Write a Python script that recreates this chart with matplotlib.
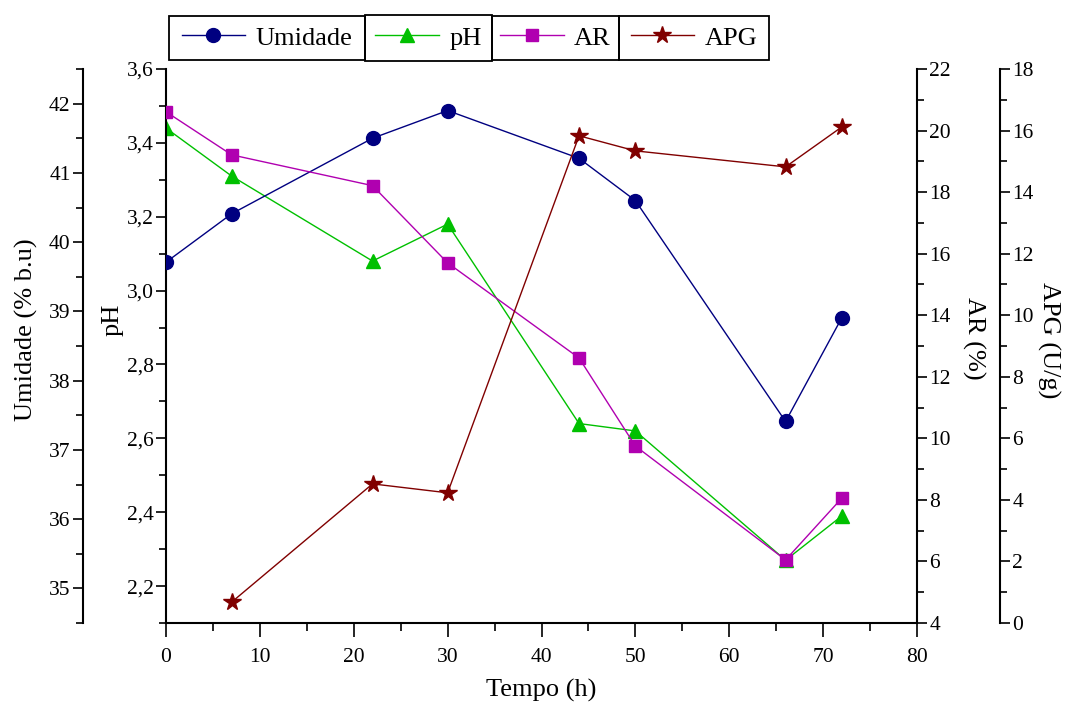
import matplotlib
matplotlib.use('Agg')
import matplotlib.pyplot as plt
from matplotlib.ticker import MultipleLocator, FuncFormatter
from matplotlib.patches import Rectangle

plt.rcParams['font.family'] = ['Liberation Serif', 'DejaVu Serif']

# dados
tempo = [0, 7, 22, 30, 44, 50, 66, 72]
umidade = [39.71, 40.41, 41.50, 41.90, 41.21, 40.60, 37.41, 38.91]
ph = [3.44, 3.31, 3.08, 3.18, 2.64, 2.62, 2.27, 2.39]
ar = [20.61, 19.21, 18.21, 15.70, 12.61, 9.75, 6.05, 8.06]
tempo_apg = [7, 22, 30, 44, 50, 66, 72]
apg = [0.68, 4.52, 4.23, 15.83, 15.34, 14.82, 16.12]

cor_umid = '#000080'
cor_ph = '#00c000'
cor_ar = '#b000b0'
cor_apg = '#800000'

W, H = 1066, 704
tick_fs = 15.5
label_fs = 19

fig = plt.figure(figsize=(W/100, H/100), dpi=100)
ax = fig.add_axes([166/W, 1 - 623/H, (917 - 166)/W, (623 - 69)/H])
ax_u = ax.twinx()
ax_ar = ax.twinx()
ax_apg = ax.twinx()

# eixo da umidade a esquerda, deslocado
ax_u.yaxis.set_label_position('left')
ax_u.yaxis.set_ticks_position('left')
ax_u.spines['left'].set_position(('outward', 83 * 72 / 100))
ax_u.spines['left'].set_visible(True)
ax_apg.spines['right'].set_position(('outward', 83 * 72 / 100))

for a in [ax, ax_u, ax_ar, ax_apg]:
    a.spines['top'].set_visible(False)
    a.patch.set_visible(False)
for a in [ax_u, ax_ar, ax_apg]:
    a.spines['bottom'].set_visible(False)
ax.spines['right'].set_visible(False)
ax_u.spines['right'].set_visible(False)
ax_ar.spines['left'].set_visible(False)
ax_apg.spines['left'].set_visible(False)

l1, = ax_u.plot(tempo, umidade, '-o', color=cor_umid, lw=1, ms=10, label='Umidade')
l2, = ax.plot(tempo, ph, '-^', color=cor_ph, lw=1, ms=10, label='pH')
l3, = ax_ar.plot(tempo, ar, '-s', color=cor_ar, lw=1, ms=9, label='AR')
l4, = ax_apg.plot(tempo_apg, apg, '-*', color=cor_apg, lw=1, ms=13, label='APG')

ax.set_xlim(0, 80)
ax.set_ylim(2.1, 3.6)
ax_u.set_ylim(34.5, 42.5)
ax_ar.set_ylim(4, 22)
ax_apg.set_ylim(0, 18)

ax.xaxis.set_major_locator(MultipleLocator(10))
ax.xaxis.set_minor_locator(MultipleLocator(5))
ax.yaxis.set_major_locator(MultipleLocator(0.2))
ax.yaxis.set_minor_locator(MultipleLocator(0.1))
ax.yaxis.set_major_formatter(FuncFormatter(lambda v, p: ('%.1f' % v).replace('.', ',')))
ax_u.yaxis.set_major_locator(MultipleLocator(1))
ax_u.yaxis.set_minor_locator(MultipleLocator(0.5))
ax_ar.yaxis.set_major_locator(MultipleLocator(2))
ax_ar.yaxis.set_minor_locator(MultipleLocator(1))
ax_apg.yaxis.set_major_locator(MultipleLocator(2))
ax_apg.yaxis.set_minor_locator(MultipleLocator(1))

ax.tick_params(axis='x', which='major', direction='out', length=10, width=1.2, labelsize=tick_fs, pad=8)
ax.tick_params(axis='x', which='minor', direction='out', length=6, width=1.2)
for a in [ax, ax_u, ax_ar, ax_apg]:
    a.tick_params(axis='y', which='major', direction='out', length=7, width=1.2, labelsize=tick_fs, pad=2)
    a.tick_params(axis='y', which='minor', direction='out', length=5, width=1.2)
    for s in a.spines.values():
        s.set_linewidth(1.5)

# rotulos dos eixos em posicao fixa
fig.text(541/W, 1 - 690/H, 'Tempo (h)', fontsize=label_fs, ha='center', va='center')
fig.text(113/W, 1 - 320/H, 'pH', fontsize=label_fs, rotation=90, ha='center', va='center')
fig.text(26/W, 1 - 330/H, 'Umidade (% b.u)', fontsize=label_fs, rotation=90, ha='center', va='center')
fig.text(974/W, 1 - 338/H, 'AR (%)', fontsize=label_fs, rotation=270, ha='center', va='center')
fig.text(1049/W, 1 - 340/H, 'APG (U/g)', fontsize=label_fs, rotation=270, ha='center', va='center')

# legendas em caixas separadas no topo
caixas = [(169, 365, 16, 60), (365, 492, 15, 61), (492, 619, 16, 60), (619, 769, 16, 60)]
for linha, (x0, x1, y0, y1) in zip([l1, l2, l3, l4], caixas):
    fig.patches.append(Rectangle((x0/W, 1 - y1/H), (x1 - x0)/W, (y1 - y0)/H,
                                 transform=fig.transFigure, fill=False,
                                 edgecolor='black', linewidth=1.3))
    fig.legend(handles=[linha], loc='center',
               bbox_to_anchor=(x0/W, 1 - y1/H, (x1 - x0)/W, (y1 - y0)/H),
               fontsize=19, frameon=False, handlelength=2.4,
               borderaxespad=0, borderpad=0, handletextpad=0.4)

fig.savefig('out.png', dpi=100)
